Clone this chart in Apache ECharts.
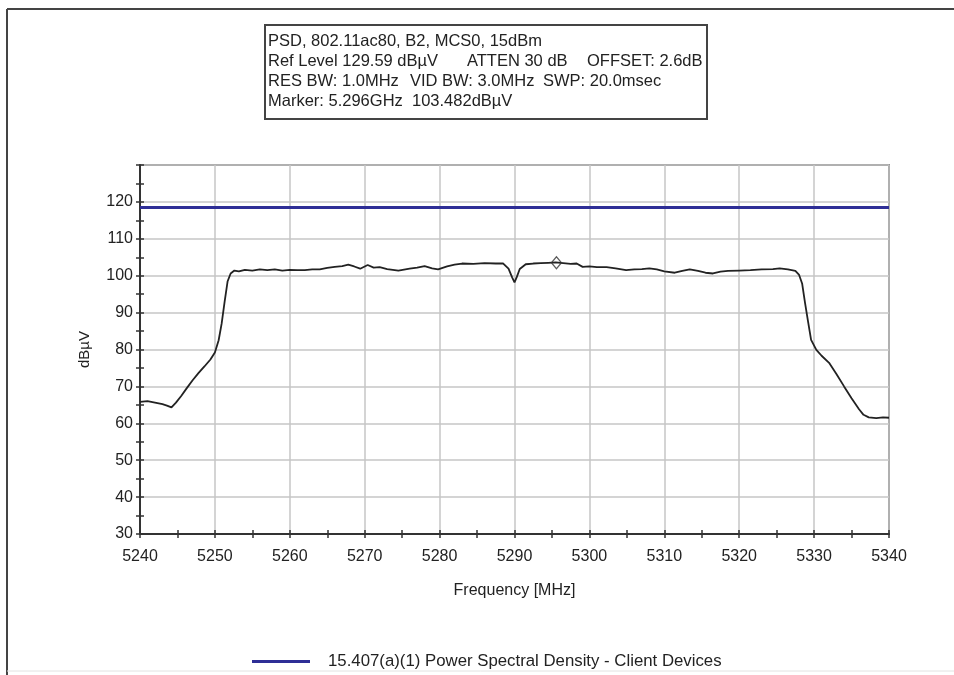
<!DOCTYPE html>
<html><head><meta charset="utf-8">
<script src="https://cdn.jsdelivr.net/npm/echarts@6/dist/echarts.min.js"></script>
<style>html,body{margin:0;padding:0;background:#fff}#c{width:954px;height:675px}</style>
</head><body><div id="c"></div>
<script>
// Measured trace: frequency (MHz) and PSD (dBµV)
const freqMHz = [5240,5241,5242,5243,5243.6,5244.2,5244.8,5245.5,5246.2,5247,5247.8,5248.6,5249.4,5250,5250.5,5250.9,5251.3,5251.7,5252.1,5252.6,
  5253.2,5254,5255,5256,5257,5258,5259,5260,5261,5262,5263,5264,5265,5266,5267,5267.8,5268.6,5269.4,5270.4,5271.2,
  5272,5273,5274.5,5276,5277,5278,5279,5279.8,5281,5282,5283,5284.5,5286,5287.5,5288.5,5289.2,5289.7,5290,5290.3,5290.7,
  5291.5,5292.5,5293.5,5294.5,5295.5,5296.5,5297.5,5298.3,5299.1,5300,5301,5302.3,5303.5,5304.9,5306,5307,5308,5309,5310,5311.4,
  5312.4,5313.4,5314.5,5315.5,5316.5,5317.5,5318.5,5320,5321.5,5323,5324.5,5325.4,5326.5,5327.5,5328,5328.4,5328.8,5329.2,5329.6,5330.3,
  5331,5332,5333,5334,5335,5336,5336.6,5337.3,5338.3,5339.2,5340];
const psdDbuv = [65.8,66.0,65.6,65.2,64.8,64.3,65.6,67.4,69.4,71.6,73.6,75.4,77.3,79.2,82.5,87,93,98.5,100.6,101.4,
  101.2,101.6,101.4,101.7,101.5,101.7,101.4,101.6,101.5,101.5,101.7,101.7,102.1,102.4,102.6,103.0,102.5,101.9,102.9,102.2,
  102.3,101.8,101.4,101.9,102.2,102.6,102.0,101.7,102.5,103.0,103.3,103.2,103.4,103.3,103.3,101.9,99.5,98.2,99.6,101.8,
  103.1,103.3,103.4,103.5,103.6,103.4,103.2,103.3,102.4,102.5,102.3,102.3,102.0,101.5,101.7,101.8,102.0,101.7,101.2,100.8,
  101.3,101.7,101.3,100.8,100.6,101.1,101.3,101.4,101.5,101.7,101.8,102.0,101.7,101.3,100.2,97.9,92.5,87.5,82.6,79.9,
  78.3,76.4,73.3,70.0,66.8,63.8,62.3,61.6,61.4,61.6,61.5];
const limitName = '15.407(a)(1) Power Spectral Density - Client Devices';
const limitFreq = [5240, 5340];
const limitValue = [118.5, 118.5];
const markerFreq = [5295.6];
const markerValue = [103.482];
const xRange = [5240, 5340];
const yRange = [30, 130];
const headerTexts = [
  ['PSD, 802.11ac80, B2, MCS0, 15dBm'],
  ['Ref Level 129.59 dBµV', 'ATTEN 30 dB', 'OFFSET: 2.6dB'],
  ['RES BW: 1.0MHz', 'VID BW: 3.0MHz', 'SWP: 20.0msec'],
  ['Marker: 5.296GHz', '103.482dBµV']
];
const headerCols = [[0],[0,199,319],[0,142,275],[0,144]];

const FONT = '"Liberation Sans", Arial, sans-serif';
const chart = echarts.init(document.getElementById('c'), null, {renderer:'canvas'});

const zip = (a, b) => a.map((v, i) => [v, b[i]]);

const headerEls = [{
  type:'rect', shape:{x:265, y:25, width:442, height:94},
  style:{fill:'#fff', stroke:'#444', lineWidth:2}
}];
headerTexts.forEach((row, r) => {
  row.forEach((t, c) => {
    headerEls.push({type:'text', x:268 + headerCols[r][c], y:41 + r*20,
      style:{text:t, font:'16.5px ' + FONT, fill:'#222', textVerticalAlign:'middle'}});
  });
});

const tickStyle = {color:'#333', width:1.5};
const gridBox = {left:140, right:65, top:165, bottom:141};

chart.setOption({
  animation:false,
  backgroundColor:'#fff',
  grid:[
    {...gridBox, show:true, borderColor:'#444', borderWidth:1.5, backgroundColor:'transparent'},
    {...gridBox, show:false}
  ],
  graphic:[
    {type:'line', shape:{x1:7, y1:9, x2:954, y2:9}, style:{stroke:'#444', lineWidth:2}},
    {type:'line', shape:{x1:7, y1:9, x2:7, y2:675}, style:{stroke:'#444', lineWidth:2}},
    {type:'line', shape:{x1:7, y1:671, x2:954, y2:671}, style:{stroke:'#e2e2e2', lineWidth:1}},
    ...headerEls
  ],
  legend:{
    data:[limitName], left:247, top:648, itemWidth:58, itemHeight:3, icon:'rect',
    textStyle:{fontFamily:FONT, fontSize:16.8, color:'#222', padding:[0,0,0,13]}
  },
  xAxis:[{
    type:'value', gridIndex:0, min:xRange[0], max:xRange[1], interval:10, z:3,
    axisLine:{show:true, lineStyle:{color:'#333', width:2}},
    name:'Frequency [MHz]', nameLocation:'middle', nameGap:49,
    nameTextStyle:{fontFamily:FONT, fontSize:16, color:'#222'},
    axisTick:{show:true, length:4, lineStyle:tickStyle},
    minorTick:{show:true, splitNumber:2, length:4, lineStyle:tickStyle},
    axisLabel:{fontFamily:FONT, fontSize:16, color:'#222', margin:15, formatter:v => String(v)},
    splitLine:{show:true, lineStyle:{color:'#c6c6c6', width:1.5}}
  },{
    type:'value', gridIndex:1, min:xRange[0], max:xRange[1], interval:10, position:'bottom', z:3,
    axisLine:{show:false}, axisLabel:{show:false}, splitLine:{show:false},
    axisTick:{show:true, inside:true, length:4, lineStyle:tickStyle},
    minorTick:{show:true, splitNumber:2, length:4, lineStyle:tickStyle}
  }],
  yAxis:[{
    type:'value', gridIndex:0, min:yRange[0], max:yRange[1], interval:10, z:3,
    axisLine:{show:true, lineStyle:{color:'#333', width:2}},
    name:'dBµV', nameLocation:'middle', nameGap:48,
    nameTextStyle:{fontFamily:FONT, fontSize:15, color:'#222'},
    axisTick:{show:true, length:4, lineStyle:tickStyle},
    minorTick:{show:true, splitNumber:2, length:4, lineStyle:tickStyle},
    axisLabel:{fontFamily:FONT, fontSize:16, color:'#222', margin:7,
      formatter:v => v >= 130 ? '' : String(v)},
    splitLine:{show:true, lineStyle:{color:'#c6c6c6', width:1.5}}
  },{
    type:'value', gridIndex:1, min:yRange[0], max:yRange[1], interval:10, position:'left', z:3,
    axisLine:{show:false}, axisLabel:{show:false}, splitLine:{show:false},
    axisTick:{show:true, inside:true, length:4, lineStyle:tickStyle},
    minorTick:{show:true, splitNumber:2, length:4, lineStyle:tickStyle}
  }],
  series:[
    {name:'PSD', type:'line', xAxisIndex:0, yAxisIndex:0, data:zip(freqMHz, psdDbuv), showSymbol:false, symbol:'none',
      lineStyle:{color:'#222', width:1.8}, itemStyle:{color:'#222'}, z:3},
    {name:limitName, type:'line', xAxisIndex:0, yAxisIndex:0, data:zip(limitFreq, limitValue), showSymbol:false, symbol:'none',
      lineStyle:{color:'#2e2e96', width:3}, itemStyle:{color:'#2e2e96'}, z:4},
    {name:'Marker', type:'scatter', xAxisIndex:0, yAxisIndex:0, data:zip(markerFreq, markerValue), symbol:'diamond', symbolSize:[10,12],
      itemStyle:{color:'rgba(255,255,255,0)', borderColor:'#333', borderWidth:1.3}, z:5}
  ]
});
</script></body></html>
